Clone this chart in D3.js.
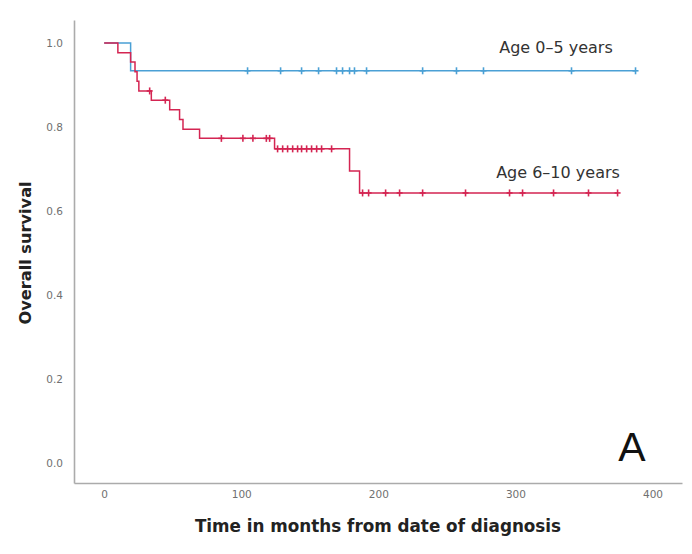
<!DOCTYPE html>
<html>
<head>
<meta charset="utf-8">
<script src="https://cdn.jsdelivr.net/npm/d3@7"></script>
<style>
  html, body { margin: 0; padding: 0; background: #fff; }
  svg { display: block; }
</style>
</head>
<body>
<svg id="chart" width="692" height="554"></svg>
<script>
// ---- data ----
const xTicks = [0, 100, 200, 300, 400];
const yTicks = [0.0, 0.2, 0.4, 0.6, 0.8, 1.0];

// Age 0-5 years: [time (months), survival after step]
const youngSteps = [[0, 1.0], [19.3, 0.934]];
const youngEnd = 387.6;
const youngCensor = [104.6, 128.7, 144.0, 156.4, 169.5, 173.9, 179.0, 182.6, 191.4, 232.3, 257.0, 276.7, 340.9, 387.6];

// Age 6-10 years
const olderSteps = [[0, 1.0], [10.0, 0.977], [19.3, 0.955], [22.5, 0.932], [24.0, 0.909], [25.3, 0.886],
  [34.4, 0.864], [47.8, 0.841], [55.0, 0.818], [57.5, 0.795], [69.6, 0.773], [124.3, 0.748],
  [179.0, 0.695], [186.3, 0.643]];
const olderEnd = 374.5;
const olderCensor = [33.2, 44.6, 85.5, 101.2, 108.5, 118.3, 120.7,
  126.5, 130.2, 133.8, 137.5, 141.1, 144.0, 147.7, 151.3, 155.0, 158.6, 165.9,
  188.5, 192.9, 205.3, 215.5, 232.3, 263.6, 295.7, 305.2, 327.8, 353.3, 374.5];

const seriesNames = ["Age 0\u20135 years", "Age 6\u201310 years"];
const seriesColors = ["#4aa0d5", "#d42552"];

// ---- chart ----
const svg = d3.select("#chart");
const x = d3.scaleLinear().domain([-22, 421.5]).range([74, 682]);
const y = d3.scaleLinear().domain([-0.048, 1.055]).range([483, 20]);

const font = "'DejaVu Sans', 'Noto Sans', sans-serif";

// axes
const xAxis = svg.append("g").attr("transform", `translate(0,${y(-0.048)})`)
  .call(d3.axisBottom(x).tickValues(xTicks).tickSize(0).tickPadding(8).tickFormat(d3.format("d")));
const yAxis = svg.append("g").attr("transform", `translate(${x(-22)},0)`)
  .call(d3.axisLeft(y).tickValues(yTicks).tickSize(0).tickPadding(11).tickFormat(d3.format(".1f")));
[xAxis, yAxis].forEach(g => {
  g.select(".domain").attr("stroke", "#ababab").attr("stroke-width", 1.6);
  g.selectAll("text").attr("fill", "#707070").style("font-family", font).style("font-size", "10.5px");
});

// axis titles
svg.append("text")
  .attr("x", 378).attr("y", 532)
  .attr("text-anchor", "middle")
  .style("font-family", font).style("font-weight", "bold").style("font-size", "16.8px")
  .attr("fill", "#222")
  .text("Time in months from date of diagnosis");
svg.append("text")
  .attr("transform", `translate(31,${(y(0) + y(1)) / 2}) rotate(-90)`)
  .attr("text-anchor", "middle")
  .style("font-family", font).style("font-weight", "bold").style("font-size", "16.2px")
  .attr("fill", "#222")
  .text("Overall survival");

// curves
const line = d3.line().x(d => x(d[0])).y(d => y(d[1])).curve(d3.curveStepAfter);
function stepValue(steps, t) {
  let v = steps[0][1];
  for (const s of steps) if (s[0] <= t) v = s[1];
  return v;
}
function drawCurve(steps, end, censor, color) {
  const pts = steps.concat([[end, steps[steps.length - 1][1]]]);
  svg.append("path").datum(pts)
    .attr("d", line).attr("fill", "none")
    .attr("stroke", color).attr("stroke-width", 1.5);
  const g = svg.append("g").attr("stroke", color).attr("stroke-width", 1.6);
  censor.forEach(t => {
    const cx = x(t), cy = y(stepValue(steps, t));
    g.append("line").attr("x1", cx).attr("x2", cx).attr("y1", cy - 3.5).attr("y2", cy + 3.5);
    g.append("line").attr("x1", cx - 3).attr("x2", cx + 3).attr("y1", cy).attr("y2", cy);
  });
}
drawCurve(youngSteps, youngEnd, youngCensor, seriesColors[0]);
drawCurve(olderSteps, olderEnd, olderCensor, seriesColors[1]);

// series labels
svg.append("text").attr("x", 556).attr("y", 53).attr("text-anchor", "middle")
  .style("font-family", font).style("font-size", "16px").attr("fill", "#333")
  .text(seriesNames[0]);
svg.append("text").attr("x", 558).attr("y", 178).attr("text-anchor", "middle")
  .style("font-family", font).style("font-size", "16px").attr("fill", "#333")
  .text(seriesNames[1]);

// panel letter
svg.append("text").attr("x", 632).attr("y", 461).attr("text-anchor", "middle")
  .style("font-family", "'Liberation Sans', Arial, sans-serif").style("font-size", "41px")
  .attr("fill", "#111")
  .text("A");
</script>
</body>
</html>
